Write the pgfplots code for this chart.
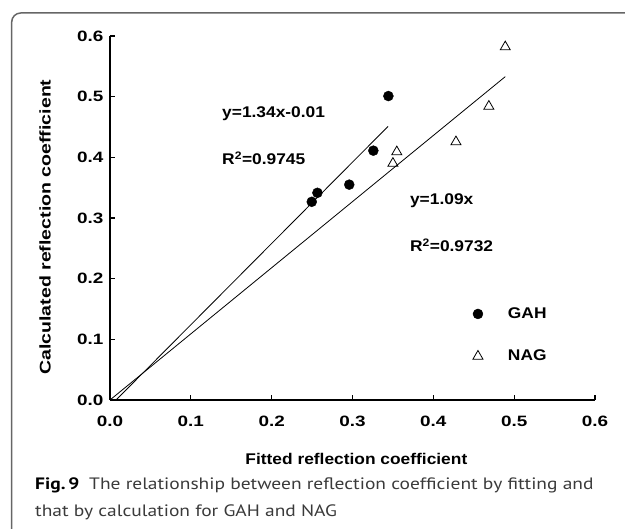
\documentclass[border=0pt]{standalone}
\usepackage{fontspec}
\setmainfont{Liberation Sans}[FakeStretch=1.12]
\newfontfamily\tickfont{Liberation Sans}[FakeStretch=1.26]
\newfontfamily\capfont{PT Sans}[FakeStretch=1.18]
\usepackage{pgfplots}
\pgfplotsset{compat=1.18}
\definecolor{capgray}{HTML}{3A3A3A}
\newcommand{\cf}{\fontsize{15.5}{18}\selectfont\bfseries}
\newcommand{\tf}{\tickfont\fontsize{15}{18}\selectfont\bfseries}
\newcommand{\lf}{\tickfont\fontsize{15.5}{18}\selectfont\bfseries}
\begin{document}
\begin{tikzpicture}[x=1pt,y=1pt]
\useasboundingbox (-110,-129) rectangle (515,400);
\draw[black!60, line width=1.5pt, rounded corners=9pt] (516,387) -- (-98.3,387) -- (-98.3,-131);
\begin{axis}[
  at={(0,0)}, anchor=south west,
  width=485pt, height=364pt, scale only axis,
  xmin=0, xmax=0.6, ymin=0, ymax=0.6,
  axis x line*=bottom, axis y line*=left,
  axis line style={-, line width=1.6pt},
  xtick={0,0.1,0.2,0.3,0.4,0.5,0.6},
  ytick={0,0.1,0.2,0.3,0.4,0.5,0.6},
  tick align=inside, major tick length=5pt,
  tick style={line width=1.2pt, black},
  /pgf/number format/.cd, fixed, fixed zerofill, precision=1, assume math mode=true,
  /pgfplots/.cd,
  ticklabel style={font=\tf},
  xticklabel style={yshift=-12pt},
  yticklabel style={xshift=-3pt},
  xlabel={Fitted reflection coefficient},
  ylabel={Calculated reflection coefficient},
  xlabel style={font=\cf, at={(axis description cs:0.508,-0.163)}, anchor=center},
  ylabel style={font=\lf, at={(axis description cs:-0.134,0.475)}, anchor=center},
  legend style={draw=none, fill=none, font=\cf, inner sep=0pt, outer sep=0pt,
    at={(axis cs:0.449,0.152)}, anchor=north west, row sep=30pt,
    nodes={inner sep=0pt}, cells={anchor=west}},
  /tikz/every odd column/.append style={column sep=25pt},
  clip=false,
]
\addplot[black, line width=0.8pt, forget plot] coordinates {(0.0075,0) (0.344,0.451)};
\addplot[black, line width=0.8pt, forget plot] coordinates {(0,0) (0.489,0.533)};
\addplot[only marks, mark=*, mark size=5pt, black]
  coordinates {(0.3444,0.501) (0.3258,0.411) (0.296,0.355) (0.2566,0.3415) (0.2496,0.3267)};
\addlegendentry{GAH}
\addplot[only marks, mark=triangle, mark size=5.8pt, black, mark options={line width=0.8pt, fill=white}]
  coordinates {(0.489,0.582) (0.4687,0.484) (0.428,0.4255) (0.3548,0.409) (0.350,0.390)};
\addlegendentry{NAG}
\node[anchor=west, font=\cf, inner sep=0pt] at (axis cs:0.1386,0.472) {y=1.34x-0.01};
\node[anchor=west, font=\cf, inner sep=0pt] at (axis cs:0.1386,0.399) {R\textsuperscript{2}=0.9745};
\node[anchor=west, font=\cf, inner sep=0pt] at (axis cs:0.371,0.328) {y=1.09x};
\node[anchor=west, font=\cf, inner sep=0pt] at (axis cs:0.371,0.255) {R\textsuperscript{2}=0.9732};
\end{axis}
\node[anchor=base west, inner sep=0pt, font=\capfont\fontsize{16.5}{19}\selectfont, text=capgray] at (-75,-90)
  {{\bfseries\color{black}Fig.\,9}\hspace{0.6em}The relationship between reflection coefficient by fitting and};
\node[anchor=base west, inner sep=0pt, font=\capfont\fontsize{16.5}{19}\selectfont, text=capgray] at (-75,-116.5)
  {that by calculation for GAH and NAG};
\end{tikzpicture}
\end{document}
